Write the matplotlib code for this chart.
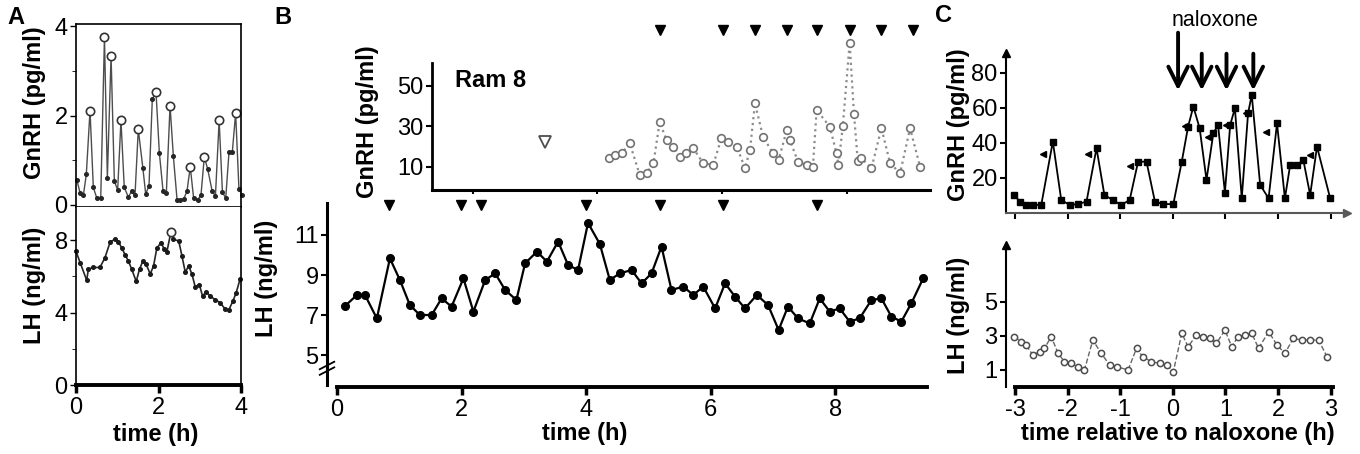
import matplotlib
matplotlib.use('Agg')
import matplotlib.pyplot as plt

plt.rcParams['font.family'] = ['Liberation Sans', 'DejaVu Sans']
plt.rcParams['xtick.labelsize'] = 17
plt.rcParams['ytick.labelsize'] = 17

# ---------------- data ----------------
# Panel A
a_gnrh_t = [0.02, 0.10, 0.18, 0.25, 0.34, 0.42, 0.50, 0.60, 0.69, 0.76, 0.85, 0.93, 1.01, 1.09, 1.17,
            1.27, 1.35, 1.43, 1.51, 1.62, 1.69, 1.77, 1.85, 1.94, 2.02, 2.11, 2.19, 2.28, 2.36, 2.45,
            2.53, 2.61, 2.69, 2.77, 2.85, 2.95, 3.03, 3.11, 3.19, 3.30, 3.38, 3.47, 3.55, 3.63, 3.71,
            3.79, 3.87, 3.95, 4.02]
a_gnrh = [0.56, 0.26, 0.22, 0.68, 2.11, 0.39, 0.16, 0.16, 3.76, 0.61, 3.33, 0.53, 0.33, 1.89, 0.39,
          0.17, 0.31, 0.21, 1.69, 0.83, 0.24, 0.43, 2.37, 2.52, 1.17, 0.31, 0.26, 2.22, 1.09, 0.11,
          0.11, 0.13, 0.30, 0.85, 0.16, 0.11, 0.22, 1.07, 0.81, 0.31, 0.19, 1.89, 0.28, 0.15, 1.19,
          1.19, 2.05, 0.36, 0.22]
a_gnrh_pulse_idx = [4, 8, 10, 13, 18, 23, 27, 33, 37, 41, 46]

a_lh_t = [0.0, 0.10, 0.26, 0.30, 0.42, 0.58, 0.70, 0.83, 0.95, 1.03, 1.11, 1.19, 1.27, 1.35, 1.46,
          1.54, 1.62, 1.70, 1.80, 1.88, 1.96, 2.06, 2.14, 2.20, 2.30, 2.36, 2.49, 2.57, 2.65, 2.73,
          2.81, 2.89, 2.99, 3.07, 3.15, 3.26, 3.38, 3.50, 3.62, 3.70, 3.80, 3.88, 3.98]
a_lh = [7.38, 6.76, 5.78, 6.40, 6.49, 6.49, 7.02, 7.91, 8.05, 7.91, 7.56, 7.20, 6.84, 6.40, 5.72,
        6.40, 6.84, 6.67, 6.13, 6.58, 7.56, 7.86, 7.50, 7.32, 8.44, 8.04, 7.96, 7.11, 6.22, 6.58,
        6.13, 5.42, 5.55, 4.89, 5.16, 4.89, 4.71, 4.53, 4.18, 4.12, 4.62, 5.07, 5.87]
a_lh_pulse_idx = [24]

# Panel B
b_lh_t = [0.13, 0.32, 0.45, 0.64, 0.85, 1.01, 1.17, 1.33, 1.52, 1.68, 1.84, 2.03, 2.19, 2.38, 2.54,
          2.70, 2.88, 3.02, 3.21, 3.37, 3.55, 3.71, 3.87, 4.03, 4.22, 4.38, 4.54, 4.73, 4.89, 5.05,
          5.21, 5.37, 5.56, 5.72, 5.88, 6.07, 6.23, 6.39, 6.55, 6.74, 6.92, 7.09, 7.24, 7.40, 7.59,
          7.75, 7.91, 8.07, 8.23, 8.39, 8.58, 8.74, 8.90, 9.06, 9.22, 9.41]
b_lh = [7.45, 8.0, 8.0, 6.83, 9.83, 8.75, 7.5, 7.0, 7.0, 7.83, 7.42, 8.83, 7.17, 8.75, 9.08,
        8.25, 7.75, 9.58, 10.17, 9.67, 10.67, 9.5, 9.25, 11.6, 10.55, 8.75, 9.08, 9.25, 8.58, 9.08,
        10.42, 8.25, 8.42, 8.0, 8.42, 7.33, 8.58, 7.92, 7.33, 8.0, 7.5, 6.25, 7.42, 6.83, 6.58,
        7.83, 7.17, 7.33, 6.67, 6.83, 7.75, 7.83, 6.92, 6.67, 7.58, 8.83]
b_lh_pulses = [0.83, 1.99, 2.31, 4.0, 5.18, 6.2, 7.7]

b_gnrh_t = [4.36, 4.46, 4.57, 4.70, 4.86, 4.97, 5.08, 5.18, 5.29, 5.40, 5.51, 5.61, 5.72, 5.88, 6.04,
            6.17, 6.28, 6.42, 6.55, 6.63, 6.71, 6.84, 7.00, 7.09, 7.22, 7.27, 7.40, 7.54, 7.64, 7.70,
            7.91, 8.02, 8.05, 8.12, 8.23, 8.30, 8.36, 8.42, 8.58, 8.74, 8.88, 9.04, 9.20, 9.36]
b_gnrh = [14.2, 15.8, 16.6, 21.6, 5.9, 6.8, 11.7, 32, 23.2, 19.9, 15.0, 16.6, 19.1, 11.7, 10.9,
          24.0, 22.4, 19.9, 9.2, 18.3, 41.3, 24.8, 16.6, 13.3, 28.1, 23.2, 12.5, 10.9, 10.0, 38.0,
          29.8, 16.6, 10.9, 30, 71, 36, 13, 14.2, 9.2, 29, 11.7, 6.8, 29, 10]
b_gnrh_single_t = [3.34]
b_gnrh_single = [22]
b_gnrh_pulses = [5.18, 6.2, 6.71, 7.22, 7.7, 8.23, 8.74, 9.25]

# Panel C
c_gnrh_t = [-3.01, -2.91, -2.79, -2.66, -2.50, -2.28, -2.12, -1.96, -1.80, -1.64, -1.45, -1.30,
            -1.14, -0.98, -0.82, -0.66, -0.50, -0.34, -0.18, 0.01, 0.17, 0.29, 0.39, 0.51, 0.64,
            0.77, 0.86, 0.99, 1.09, 1.18, 1.31, 1.43, 1.50, 1.66, 1.82, 1.98, 2.13, 2.23, 2.36,
            2.48, 2.61, 2.74, 2.99]
c_gnrh = [10.3, 6.5, 4.6, 4.6, 4.6, 40.8, 7.4, 4.6, 5.1, 6.5, 37, 10.3, 7.4, 4.6, 7.4, 29.3, 29.3,
          6.5, 5.1, 5.1, 29.3, 49.3, 60.8, 48.4, 18.9, 45.5, 50.3, 11.6, 50.3, 59.8, 8.4, 57, 67.4,
          16, 8.4, 51.2, 8.4, 27.4, 27.4, 30.3, 10.3, 37.9, 8.4]
c_pulse_t = [-2.47, -1.62, -0.82, 0.23, 0.67, 1.02, 1.40, 1.78, 2.60]
c_pulse = [33.7, 33.7, 27, 49.5, 43.6, 50, 57, 46.5, 33]
c_naloxone_t = [0.10, 0.55, 1.02, 1.53]

c_lh_t = [-3.01, -2.88, -2.79, -2.66, -2.53, -2.44, -2.31, -2.18, -2.06, -1.93, -1.80, -1.68,
          -1.52, -1.36, -1.20, -1.07, -0.85, -0.69, -0.57, -0.41, -0.25, -0.12, 0.01, 0.17, 0.29,
          0.45, 0.58, 0.70, 0.83, 0.99, 1.12, 1.24, 1.37, 1.50, 1.63, 1.82, 1.98, 2.13, 2.29, 2.45,
          2.61, 2.77, 2.93]
c_lh = [2.96, 2.67, 2.47, 1.88, 2.08, 2.27, 2.96, 1.98, 1.49, 1.39, 1.2, 1.0, 2.76, 1.98, 1.29,
        1.2, 1.0, 2.27, 1.78, 1.49, 1.39, 1.29, 0.9, 3.16, 2.37, 3.06, 2.96, 2.86, 2.57, 3.35, 2.37,
        2.96, 3.06, 3.16, 2.27, 3.25, 2.47, 1.98, 2.86, 2.76, 2.76, 2.76, 1.78]

a_xticks = [0, 2, 4]
b_xticks = [0, 2, 4, 6, 8]
c_xticks = [-3, -2, -1, 0, 1, 2, 3]

# ---------------- layout ----------------
W, H = 1360, 454
fig = plt.figure(figsize=(W / 100, H / 100), dpi=100)


def rect(l, t, r, b):
    return [l / W, 1 - b / H, (r - l) / W, (b - t) / H]


LBL = dict(fontsize=17, fontweight='bold')


def ylab(ax, text, x, y):
    ax.set_ylabel(text, **LBL)
    ax.yaxis.set_label_coords(x, y)
    ax.yaxis.label.set_va('center')


def xlab(ax, text, x, y):
    ax.set_xlabel(text, **LBL)
    ax.xaxis.set_label_coords(x, y)
    ax.xaxis.label.set_va('center')


# ---- Panel A, GnRH ----
ax = fig.add_axes(rect(76, 24, 241, 207))
ax.plot(a_gnrh_t, a_gnrh, '-', color='0.3', lw=1.0, marker='o', ms=2.6, mfc='0.15', mec='0.15',
        clip_on=False)
ax.plot([a_gnrh_t[i] for i in a_gnrh_pulse_idx], [a_gnrh[i] for i in a_gnrh_pulse_idx], 'o',
        ms=6, mfc='white', mec='0.2', mew=1.2, clip_on=False)
ax.set_xlim(0, 4)
ax.set_ylim(-0.05, 4.05)
ax.set_yticks([0, 2, 4])
ax.set_yticks([1, 3], minor=True)
ax.set_xticks([1, 2, 3])
ax.set_xticklabels([])
ax.tick_params(length=4, width=1, pad=2)
ax.tick_params(which='minor', length=3)
for s in ax.spines.values():
    s.set_linewidth(1.2)
ylab(ax, 'GnRH (pg/ml)', -0.25, 0.568)
fig.text(16 / W, 1 - 17 / H, 'A', ha='center', va='center', **LBL)

# ---- Panel A, LH ----
ax = fig.add_axes(rect(76, 207, 241, 385))
ax.plot(a_lh_t, a_lh, '-', color='0.15', lw=1.2, marker='o', ms=2.6, mfc='0.1', mec='0.1',
        clip_on=False)
ax.plot([a_lh_t[i] for i in a_lh_pulse_idx], [a_lh[i] for i in a_lh_pulse_idx], 'o',
        ms=6, mfc='white', mec='0.2', mew=1.2)
ax.set_xlim(0, 4)
ax.set_ylim(0, 9.83)
ax.set_yticks([0, 4, 8])
ax.set_yticks([2, 6], minor=True)
ax.set_xticks(a_xticks)
ax.spines['top'].set_visible(False)
ax.spines['left'].set_linewidth(1.2)
ax.spines['right'].set_linewidth(1.2)
ax.spines['bottom'].set_linewidth(2.8)
ax.tick_params(axis='y', length=4, width=1, pad=2)
ax.tick_params(axis='y', which='minor', length=3)
ax.tick_params(axis='x', length=6, width=2.5, pad=3)
ylab(ax, 'LH (ng/ml)', -0.25, 0.56)
xlab(ax, 'time (h)', 0.48, -0.28)

# ---- Panel B, LH (main) ----
ax = fig.add_axes(rect(327, 200, 930, 387))
ax.plot(b_lh_t, b_lh, '-', color='k', lw=1.6, marker='o', ms=5.5, mfc='k', mec='k')
ax.plot(b_lh_pulses, [12.5] * len(b_lh_pulses), 'v', ms=7.5, color='k', clip_on=False)
ax.set_xlim(-0.16, 9.52)
ax.set_ylim(3.4, 12.75)
ax.spines['top'].set_visible(False)
ax.spines['right'].set_visible(False)
ax.spines['left'].set_linewidth(2.2)
ax.spines['left'].set_bounds(3.5, 12.6)
ax.spines['bottom'].set_linewidth(2.8)
ax.spines['bottom'].set_bounds(0, 9.47)
ax.set_yticks([5, 7, 9, 11])
ax.set_xticks(b_xticks)
ax.tick_params(axis='y', length=4, width=1.5, pad=2)
ax.tick_params(axis='x', length=6, width=2.5, pad=3)
# axis break mark
for dy in (0.085, 0.115):
    ax.plot([-0.012, 0.012], [dy - 0.02, dy + 0.02], transform=ax.transAxes, color='k',
            lw=1.3, clip_on=False)
ylab(ax, 'LH (ng/ml)', -0.101, 0.583)
xlab(ax, 'time (h)', 0.428, -0.246)
fig.text(283 / W, 1 - 17 / H, 'B', ha='center', va='center', **LBL)

# ---- Panel B, GnRH (inset) ----
ax = fig.add_axes(rect(432, 63, 930, 190))
ax.patch.set_alpha(0)
ax.plot(b_gnrh_t, b_gnrh, linestyle=':', color='0.55', lw=1.6, marker='o', ms=5.5,
        mfc='white', mec='0.45', mew=1.2, clip_on=False)
ax.plot(b_gnrh_single_t, b_gnrh_single, 'v', ms=8, mfc='white', mec='0.3', mew=1.3)
ax.plot(b_gnrh_pulses, [77.5] * len(b_gnrh_pulses), 'v', ms=7.5, color='k', clip_on=False)
ax.set_xlim(1.525, 9.52)
ax.set_ylim(-1.5, 61.2)
ax.spines['top'].set_visible(False)
ax.spines['right'].set_visible(False)
ax.spines['left'].set_linewidth(2.0)
ax.spines['bottom'].set_linewidth(2.2)
ax.set_yticks([10, 30, 50])
ax.set_xticks([2.18, 4.18, 6.18, 8.18])
ax.set_xticklabels([])
ax.tick_params(axis='y', length=4, width=1.5, pad=2)
ax.tick_params(axis='x', length=3, width=1.5)
ax.text(0.046, 0.866, 'Ram 8', transform=ax.transAxes, ha='left', va='center', **LBL)
ylab(ax, 'GnRH (pg/ml)', -0.13, 0.535)

# ---- Panel C, GnRH ----
ax = fig.add_axes(rect(1006, 53, 1347, 213))
ax.plot(c_gnrh_t, c_gnrh, '-', color='k', lw=1.3, marker='s', ms=4.5, mfc='k', mec='k')
ax.plot(c_pulse_t, c_pulse, '<', ms=5, color='k')
for i, xn in enumerate(c_naloxone_t):
    top = 103 if i == 0 else 91
    ax.annotate('', xy=(xn, 70), xytext=(xn, top), annotation_clip=False,
                arrowprops=dict(arrowstyle='->,head_length=0.7,head_width=0.35',
                                lw=2.8, color='k', mutation_scale=20, shrinkA=0, shrinkB=0))
ax.text(0.8, 110, 'naloxone', ha='center', va='center', fontsize=15.5)
ax.set_xlim(-3.17, 3.31)
ax.set_ylim(0, 91.4)
ax.spines['top'].set_visible(False)
ax.spines['right'].set_visible(False)
ax.spines['left'].set_linewidth(1.5)
ax.spines['bottom'].set_linewidth(1.5)
ax.spines['bottom'].set_color('0.35')
ax.plot([1], [0], '>', ms=6, color='0.35', transform=ax.transAxes, clip_on=False)
ax.plot([0], [1], '^', ms=6, color='k', transform=ax.transAxes, clip_on=False)
ax.set_yticks([20, 40, 60, 80])
ax.set_xticks(c_xticks)
ax.set_xticklabels([])
ax.tick_params(axis='y', length=4, width=1.5, pad=2)
ax.tick_params(axis='x', length=4, width=1.5)
ylab(ax, 'GnRH (pg/ml)', -0.14, 0.55)
fig.text(943 / W, 1 - 15 / H, 'C', ha='center', va='center', **LBL)

# ---- Panel C, LH ----
ax = fig.add_axes(rect(1006, 245, 1347, 387))
ax.plot(c_lh_t, c_lh, linestyle='--', color='0.4', lw=1.0, marker='o', ms=4.5, mfc='white',
        mec='0.3', mew=1.1)
ax.set_xlim(-3.17, 3.31)
ax.set_ylim(0, 8.35)
ax.spines['top'].set_visible(False)
ax.spines['right'].set_visible(False)
ax.spines['left'].set_linewidth(1.5)
ax.spines['bottom'].set_linewidth(2.8)
ax.spines['bottom'].set_bounds(-3.0, 3.05)
ax.plot([0], [1], '^', ms=6, color='k', transform=ax.transAxes, clip_on=False)
ax.set_yticks([1, 3, 5])
ax.set_xticks(c_xticks)
ax.set_xticklabels([str(v) for v in c_xticks])
ax.tick_params(axis='y', length=4, width=1.5, pad=2)
ax.tick_params(axis='x', length=6, width=2.5, pad=3)
ylab(ax, 'LH (ng/ml)', -0.14, 0.507)
xlab(ax, 'time relative to naloxone (h)', 0.504, -0.324)

fig.savefig('out.png', dpi=100)
